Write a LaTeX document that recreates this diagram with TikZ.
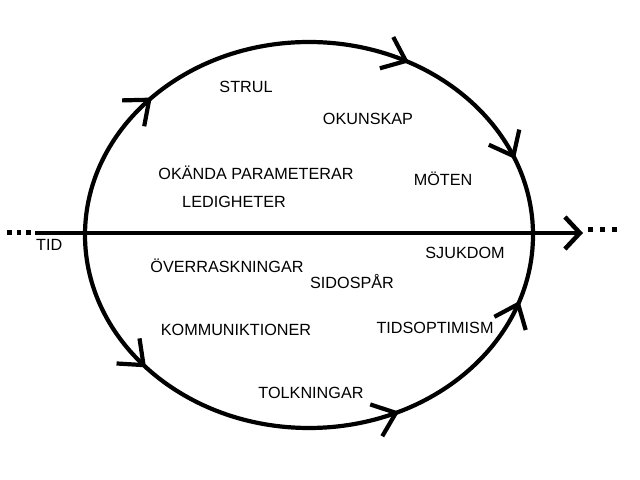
\documentclass[tikz,border=0pt]{standalone}
\usepackage{fontspec}
\setmainfont{Liberation Sans}
\usetikzlibrary{arrows.meta,decorations.markings}
\newcommand{\barbat}[2]{%
  \path[postaction={decorate},decoration={markings,mark=at position 1 with {\arrow[line width=4.2bp]{barbtip}}}]
    (C) ++(#1:224 and 193) arc[start angle=#1,end angle=#2,x radius=224,y radius=193];}
\begin{document}
\begin{tikzpicture}[x=1bp,y=1bp,
  lbl/.style={anchor=base,inner sep=0pt,font=\fontsize{16.2bp}{19bp}\selectfont},
  ring/.style={line width=4.2bp},
  axis/.style={line width=4.5bp},
  dots/.style={line width=4.5bp,dash pattern=on 4.5bp off 5bp},
  barbtip/.tip={Straight Barb[length=21bp,width=34bp]}
]
\useasboundingbox (0,0) rectangle (640,480);
\coordinate (C) at (309,245);
\draw[ring] (C) ellipse [x radius=224,y radius=193];
% upper half arrows (left to right over the top)
\barbat{140}{134.6}
\barbat{69}{63.5}
\barbat{29}{23.2}
% lower half arrows (left to right under the bottom)
\barbat{217}{223.3}
\barbat{288}{293.7}
\barbat{334}{340}
% time axis
\coordinate (tstart) at (35,247);
\coordinate (tend) at (583,247);
\draw[axis,-{Straight Barb[length=15bp,width=32bp]}] (tstart) -- (tend);
\coordinate (ldA) at (7,247.5);
\coordinate (ldB) at (31,247.5);
\draw[dots] (ldA) -- (ldB);
\coordinate (rdA) at (588,250.5);
\coordinate (rdB) at (620,250.5);
\draw[line width=4.5bp,dash pattern=on 5bp off 7bp] (rdA) -- (rdB);
% labels
\node[lbl] (strul) at (246,387) {STRUL};
\node[lbl] (okunskap) at (368,355) {OKUNSKAP};
\node[lbl] (okanda) at (256,300) {OKÄNDA PARAMETERAR};
\node[lbl] (moten) at (443,294) {MÖTEN};
\node[lbl] (ledig) at (234,272) {LEDIGHETER};
\node[lbl,anchor=base west] (tid) at (36,229) {TID};
\node[lbl] (sjuk) at (465,221) {SJUKDOM};
\node[lbl] (overr) at (227,207) {ÖVERRASKNINGAR};
\node[lbl] (sido) at (352,191) {SIDOSPÅR};
\node[lbl] (komm) at (236,144) {KOMMUNIKTIONER};
\node[lbl] (tidsopt) at (435,146) {TIDSOPTIMISM};
\node[lbl] (tolk) at (311,81) {TOLKNINGAR};
\end{tikzpicture}
\end{document}
